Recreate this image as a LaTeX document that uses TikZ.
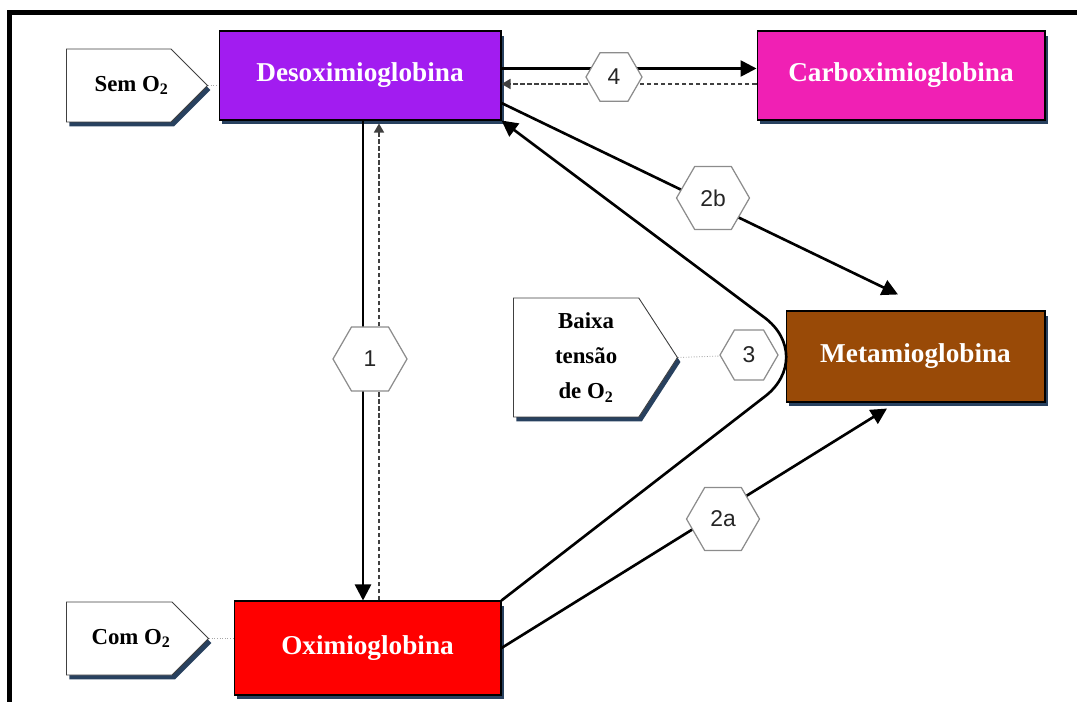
\documentclass[tikz,border=0pt]{standalone}
\usepackage{fontspec}
\setmainfont{Liberation Serif}
\setsansfont{Liberation Sans}
\usetikzlibrary{arrows.meta,shapes.geometric,shapes.symbols,shadows,positioning}

\begin{document}
\begin{tikzpicture}[x=0.02cm, y=-0.02cm,
  shade box/.style={drop shadow={shadow xshift=0.06cm, shadow yshift=-0.09cm,
    fill=shadowblue, opacity=1}},
  pigment/.style={shade box, draw=black, line width=0.6pt, text=white,
    font=\fontsize{15.5}{18}\selectfont\bfseries},
  cond/.style={shade box, signal, signal to=east, draw=black!75, fill=white,
    line width=0.5pt, inner sep=0pt, align=center,
    font=\fontsize{13}{20}\selectfont\bfseries},
  hexa/.style={regular polygon, regular polygon sides=6, draw=black!45, fill=white,
    line width=0.7pt, inner sep=0pt, text=black!85,
    font=\sffamily\fontsize{13}{15}\selectfont},
  flow/.style={line width=1.5pt, -{Triangle[length=0.32cm, width=0.32cm]}},
  back/.style={line width=0.9pt, black!75, dash pattern=on 2.5pt off 1.5pt,
    -{Triangle[length=0.18cm, width=0.2cm]}},
  link/.style={black!35, line width=0.5pt, densely dotted}]
% Myoglobin states: four pigment boxes, three condition tags,
% numbered hexagons sitting on the reaction arrows.
\definecolor{desoxi}{RGB}{162, 28, 240}
\definecolor{carboxi}{RGB}{240, 32, 180}
\definecolor{metami}{RGB}{153, 74, 7}
\definecolor{shadowblue}{RGB}{40, 65, 95}
\useasboundingbox (0,0) rectangle (1077,702);
\draw[line width=0.1cm] (9.5,702) -- (9.5,13) -- (1077,13);

\node[pigment, fill=desoxi, minimum width=5.64cm, minimum height=1.78cm]
  (desox) at (360,75.5) {Desoximioglobina};
\node[pigment, fill=carboxi, minimum width=5.76cm, minimum height=1.78cm]
  (carbox) at (901,75.5) {Carboximioglobina};
\node[pigment, fill=metami, minimum width=5.18cm, minimum height=1.82cm]
  (metam) at (915.5,356.5) {Metamioglobina};
\node[pigment, fill=red, minimum width=5.34cm, minimum height=1.88cm]
  (oxim) at (367.5,648) {Oximioglobina};

% tags: the \hspace* pushes the text off the body centre, towards the point
\node[cond, minimum width=2.82cm, minimum height=1.46cm, anchor=west]
  (sem) at (66,85.5) {\hspace*{0.52cm}Sem O\textsubscript{2}};
\node[cond, minimum width=2.84cm, minimum height=1.46cm, anchor=west]
  (com) at (66,638.5) {\hspace*{0.48cm}Com O\textsubscript{2}};
\node[cond, minimum width=3.28cm, minimum height=2.38cm,
  signal pointer angle=114, anchor=west]
  (baixa) at (513,357.5) {\hspace*{0.4cm}Baixa\\\hspace*{0.4cm}tensão\\
  \hspace*{0.4cm}de O\textsubscript{2}};

% 1: oxygenation down, release up
\draw[flow] ([xshift=0.06cm]desox.south) -- ([xshift=0.06cm]desox.south |- oxim.north);
\draw[back] ([xshift=0.38cm]desox.south |- oxim.north) -- ([xshift=0.38cm,yshift=-0.06cm]desox.south);
% 4: carbon monoxide
\draw[flow] ([yshift=0.14cm]desox.east) -- ([yshift=0.14cm]desox.east -| carbox.west);
\draw[back] ([yshift=-0.17cm]carbox.west) -- ([yshift=-0.17cm]carbox.west -| desox.east);
% 2a, 2b: oxidation
\draw[flow] (desox.-11) -- ([xshift=-0.35cm, yshift=0.32cm]metam.north);
\draw[flow] (oxim.east) -- ([xshift=-0.57cm, yshift=-0.12cm]metam.south);
% 3: reduction back to the deoxy form
\draw[flow, rounded corners=1.3cm]
  (oxim.north east) -- ([xshift=0.62cm]metam.west) -- (desox.south east);

\foreach \id/\hx/\hy/\sz in {1/370/359/1.48cm, 4/614/77/1.12cm,
    2b/713/198/1.46cm, 2a/723/519/1.46cm, 3/749/355/1.16cm}
  \node[hexa, minimum size=\sz] (h\id) at (\hx,\hy) {\id};

\draw[link] (sem.east) -- (sem.east -| desox.west);
\draw[link] (com.east) -- (com.east -| oxim.west);
\draw[link] (baixa.east) -- (h3);
\end{tikzpicture}
\end{document}
